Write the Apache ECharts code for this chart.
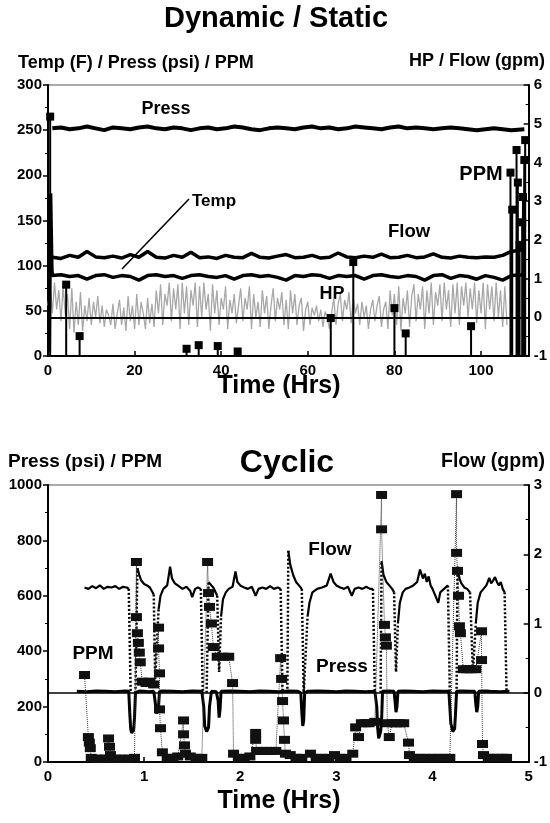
<!DOCTYPE html>
<html><head><meta charset="utf-8">
<script src="https://cdn.jsdelivr.net/npm/echarts@6/dist/echarts.min.js"></script>
<style>html,body{margin:0;padding:0;background:#fff}#c{width:550px;height:823px}</style>
</head><body><div id="c"></div>
<script>
// ---------- TOP CHART (Dynamic / Static) ----------
const topTime = [1,3,5,7,9,11,13,15,17,19,21,23,25,27,29,31,33,35,37,39,41,43,45,47,49,51,53,55,57,59,61,63,65,67,69,71,73,75,77,79,81,83,85,87,89,91,93,95,97,99,101,103,105,107,110];
const topPress = [252,253,251,252,254,252,250,253,252,251,253,254,252,251,253,252,250,252,253,251,252,254,253,251,250,252,253,252,251,253,254,252,253,251,252,254,253,252,251,253,254,252,253,252,251,252,253,252,251,250,251,252,251,250,251];
const topFlow = [1.55,1.52,1.6,1.55,1.7,1.56,1.54,1.58,1.53,1.62,1.55,1.7,1.55,1.53,1.6,1.55,1.68,1.54,1.56,1.52,1.6,1.55,1.54,1.65,1.55,1.53,1.58,1.62,1.54,1.55,1.6,1.53,1.55,1.66,1.56,1.54,1.58,1.55,1.63,1.54,1.55,1.6,1.54,1.56,1.64,1.55,1.53,1.58,1.55,1.54,1.56,1.55,1.6,1.7,1.75];
const topTemp = [89,90,88,89,85,89,90,87,89,88,84,89,90,88,89,86,89,90,88,87,89,85,89,90,88,89,87,84,89,88,90,89,86,89,88,89,85,89,90,88,87,89,88,84,89,90,86,89,88,85,89,87,84,89,90];
const tempStartT = [0.3,0.6,0.9];
const tempStartV = [5,180,95];
const hpTime = [0,0.5,1,1.5,2,2.5,3,3.5,4,4.5,5,5.5,6,6.5,7,7.5,8,8.5,9,9.5,10,10.5,11,11.5,12,12.5,13,13.5,14,14.5,15,15.5,16,16.5,17,17.5,18,18.5,19,19.5,20,20.5,21,21.5,22,22.5,23,23.5,24,24.5,25,25.5,26,26.5,27,27.5,28,28.5,29,29.5,30,30.5,31,31.5,32,32.5,33,33.5,34,34.5,35,35.5,36,36.5,37,37.5,38,38.5,39,39.5,40,40.5,41,41.5,42,42.5,43,43.5,44,44.5,45,45.5,46,46.5,47,47.5,48,48.5,49,49.5,50,50.5,51,51.5,52,52.5,53,53.5,54,54.5,55,55.5,56,56.5,57,57.5,58,58.5,59,59.5,60,60.5,61,61.5,62,62.5,63,63.5,64,64.5,65,65.5,66,66.5,67,67.5,68,68.5,69,69.5,70,70.5,71,71.5,72,72.5,73,73.5,74,74.5,75,75.5,76,76.5,77,77.5,78,78.5,79,79.5,80,80.5,81,81.5,82,82.5,83,83.5,84,84.5,85,85.5,86,86.5,87,87.5,88,88.5,89,89.5,90,90.5,91,91.5,92,92.5,93,93.5,94,94.5,95,95.5,96,96.5,97,97.5,98,98.5,99,99.5,100,100.5,101,101.5,102,102.5,103,103.5,104,104.5,105,105.5,106];
const hpVal = [
 0.3,0.85,0.1,0.9,0.2,0.7,-0.1,0.8,0.05,0.6,
 -0.3,0.75,-0.4,0.4,-0.2,0.65,-0.35,0.3,-0.1,0.5,
 -0.2,0.4,0.0,0.55,-0.15,0.3,-0.25,0.2,0.05,-0.2,
 0.35,-0.3,0.1,0.45,-0.2,0.25,-0.35,0.55,-0.1,0.3,
 -0.3,0.6,-0.2,0.4,0.1,-0.3,0.5,-0.15,0.35,-0.25,
 0.7,0.1,0.85,-0.2,0.6,0.3,0.9,-0.1,0.75,0.2,
 0.85,-0.3,0.9,0.1,0.8,-0.2,0.7,0.3,0.9,-0.25,
 0.8,0.0,0.9,0.2,0.6,-0.35,0.85,0.1,0.7,-0.2,
 0.5,0.2,0.8,-0.3,0.45,0.1,0.6,-0.15,0.3,0.75,
 -0.1,0.5,0.2,0.8,-0.3,0.6,0.0,0.4,-0.25,0.7,
 0.1,0.55,-0.3,0.3,0.75,-0.1,0.5,0.2,0.65,-0.2,
 0.45,-0.3,0.7,0.1,0.6,-0.2,0.3,0.5,-0.35,0.2,
 0.4,-0.2,0.25,0.05,0.3,-0.1,0.2,-0.25,0.15,0.0,
 -0.3,0.1,0.5,-0.2,0.35,0.6,-0.1,0.45,0.2,0.65,
 -0.15,0.5,0.1,0.35,-0.2,0.4,0.0,0.3,-0.3,0.2,
 0.45,-0.1,0.3,0.55,-0.25,0.2,0.4,-0.3,0.7,0.05,
 0.6,-0.2,0.8,-0.35,0.5,0.1,0.7,-0.25,0.55,0.85,
 -0.1,0.6,0.2,0.8,-0.3,0.7,0.1,0.9,-0.2,0.65,
 0.3,0.85,-0.1,0.9,0.2,0.7,-0.25,0.85,0.1,0.9,
 -0.2,0.8,0.3,0.9,0.0,0.75,0.2,0.9,-0.15,0.7,
 0.1,0.9,-0.3,0.85,0.2,0.8,-0.1,0.9,0.0,0.7,
 -0.25,0.8,-0.2];
const ppmTopT = [0.5,4.2,7.3,32,34.8,39.2,43.8,65.3,70.5,80,82.6,97.7,106.8,107.2,108.2,108.5,108.9,109.5,109.7,110,110.2];
const ppmTopV = [265,79,22,8,12,11,5,42,104,53,25,33,203,162,228,192,123,148,176,217,239];

// ---------- BOTTOM CHART (Cyclic) ----------
const flowT = [0.38,0.42,0.46,0.5,0.54,0.58,0.62,0.66,0.7,0.74,0.78,0.82,0.84,0.88,
 0.93,0.95,0.97,1.0,1.03,1.06,1.08,1.1,1.12,
 1.15,1.17,1.2,1.24,1.27,1.29,1.32,1.36,1.4,1.44,1.48,1.5,1.53,1.56,1.59,1.63,
 1.67,1.7,1.72,1.74,1.76,1.78,
 1.8,1.82,1.85,1.88,1.92,1.95,1.97,2.0,2.04,2.08,2.12,2.16,2.19,2.23,2.27,2.31,2.35,2.39,2.42,2.46,
 2.5,2.52,2.55,2.58,2.61,2.64,2.67,
 2.7,2.72,2.75,2.8,2.85,2.9,2.94,2.97,3.0,3.04,3.08,3.12,3.16,3.19,3.23,3.27,3.31,3.35,3.38,3.43,
 3.47,3.49,3.52,3.55,3.58,3.6,3.62,
 3.64,3.66,3.69,3.72,3.76,3.8,3.84,3.87,3.9,3.92,3.94,3.96,3.98,4.0,4.03,4.06,4.08,4.12,4.16,4.2,
 4.26,4.28,4.3,4.33,4.36,4.39,4.42,
 4.45,4.47,4.5,4.53,4.56,4.59,4.61,4.63,4.65,4.67,4.69,4.71,4.73,4.75];
const flowV = [1.52,1.5,1.54,1.51,1.55,1.5,1.53,1.52,1.54,1.5,1.53,1.52,1.5,null,
 1.8,1.7,1.62,1.57,1.55,1.52,1.5,1.42,null,
 1.2,1.4,1.5,1.55,1.82,1.65,1.58,1.54,1.5,1.53,1.47,1.38,1.5,1.52,1.5,null,
 1.6,1.55,1.52,1.5,1.4,null,
 1.1,1.35,1.45,1.5,1.53,1.75,1.6,1.55,1.52,1.5,1.53,1.4,1.5,1.52,1.5,1.54,1.5,1.52,1.5,null,
 2.05,1.85,1.7,1.6,1.55,1.5,null,
 1.1,1.3,1.45,1.5,1.52,1.55,1.72,1.6,1.55,1.52,1.5,1.53,1.4,1.5,1.52,1.5,1.53,1.5,1.5,null,
 1.9,1.7,1.6,1.55,1.5,1.45,null,
 1.0,1.3,1.45,1.5,1.52,1.55,1.6,1.78,1.65,1.72,1.6,1.68,1.55,1.5,1.4,1.3,1.45,1.5,1.55,null,
 1.82,1.65,1.58,1.52,1.5,1.45,null,
 1.0,1.3,1.45,1.5,1.55,1.66,1.58,1.62,1.67,1.6,1.55,1.6,1.5,1.45];
const dropT = [0.84,0.86,0.88,0.91,0.93,0.95,1.1,1.115,1.15,1.16,1.59,1.61,1.63,1.65,1.67,1.68,1.76,1.78,1.8,1.81,
 2.42,2.44,2.46,2.49,2.5,2.51,2.64,2.66,2.7,2.71,3.38,3.4,3.43,3.46,3.47,3.48,3.6,3.62,3.64,3.65,
 4.16,4.18,4.2,4.25,4.26,4.27,4.39,4.42,4.45,4.46,4.75,4.77];
const dropV = [1.5,0,null,0,1.8,null,1.42,0.2,1.2,null,1.5,0,null,0,1.6,null,1.4,0.3,1.1,null,
 1.5,0,null,0,2.05,null,1.5,0,1.1,null,1.5,0,null,0,1.9,null,1.45,0.3,1.0,null,
 1.55,0,null,0,1.82,null,1.45,0.3,1.0,null,1.45,0];
const pressBT = [0.3,0.4,0.5,0.6,0.7,0.8,0.84,0.85,0.86,0.87,0.89,0.9,0.91,0.95,1.0,1.05,1.1,1.11,1.13,1.15,1.16,1.2,1.3,1.4,1.5,1.6,1.62,1.63,1.65,1.67,1.68,1.7,1.75,1.77,1.78,1.79,1.8,1.9,2.0,2.1,2.2,2.3,2.4,2.5,2.6,2.63,2.64,2.65,2.66,2.67,2.7,2.8,2.9,3.0,3.1,3.2,3.3,3.4,3.42,3.43,3.44,3.46,3.47,3.48,3.55,3.6,3.61,3.62,3.63,3.64,3.7,3.8,3.9,4.0,4.1,4.17,4.18,4.19,4.21,4.23,4.24,4.25,4.3,4.4,4.44,4.45,4.46,4.47,4.48,4.55,4.6,4.7,4.8];
const pressBV = [255,254,256,255,254,256,255,180,120,105,115,160,250,256,255,254,255,230,175,200,255,256,255,254,256,255,200,130,110,125,200,255,254,220,160,190,255,256,255,254,256,255,254,256,255,250,180,130,150,250,255,256,255,254,256,255,254,255,200,120,85,110,150,255,256,255,220,180,200,255,256,255,254,256,255,255,200,140,110,120,180,255,256,255,255,210,180,200,255,256,255,254,255];
const ppmBT = [0.38,0.42,0.43,0.44,0.45,0.5,0.55,0.6,0.63,0.64,0.65,0.7,0.75,0.8,0.85,0.9,0.92,0.92,0.93,0.94,0.95,0.96,0.98,1.02,1.06,1.1,1.15,1.15,1.16,1.16,1.17,1.19,1.24,1.3,1.35,1.41,1.41,1.42,1.43,1.48,1.54,1.6,1.66,1.67,1.68,1.7,1.72,1.76,1.82,1.88,1.92,1.93,1.98,2.04,2.1,2.16,2.16,2.17,2.22,2.27,2.32,2.37,2.42,2.43,2.44,2.45,2.46,2.47,2.52,2.58,2.64,2.73,2.79,2.85,2.92,2.98,3.04,3.1,3.17,3.2,3.23,3.26,3.3,3.34,3.4,3.47,3.47,3.5,3.51,3.52,3.53,3.55,3.58,3.62,3.66,3.7,3.75,3.76,3.81,3.87,3.93,4.0,4.06,4.12,4.18,4.25,4.25,4.26,4.27,4.28,4.29,4.32,4.36,4.4,4.45,4.51,4.51,4.52,4.53,4.58,4.63,4.68,4.73,4.77];
const ppmBV = [314,90,70,50,15,12,12,12,85,55,25,12,12,12,12,15,722,523,465,430,395,360,290,285,290,280,485,410,320,190,122,35,15,15,20,150,100,60,30,20,15,15,722,610,560,500,415,380,380,380,285,30,15,15,20,105,80,40,40,40,40,40,375,300,220,150,80,30,25,15,15,30,15,15,15,25,15,15,30,125,90,140,140,140,145,964,840,495,450,420,140,90,140,140,140,140,70,25,15,15,15,15,15,15,15,967,755,690,600,490,465,335,335,335,335,472,368,65,25,15,15,15,15,15];

// ---------- tick labels ----------
const topXTicks = [0,20,40,60,80,100];
const botXTicks = [0,1,2,3,4,5];

const pair = (t, v) => t.map((x, i) => [x, v[i] === null ? null : v[i]]);
const FONT = "'Liberation Sans', Arial, Helvetica, sans-serif";

const ppmTopData = [[0,0]];
ppmTopT.forEach((t, i) => {
  ppmTopData.push({value:[t,0], symbol:'none'});
  ppmTopData.push({value:[t,ppmTopV[i]], symbol:'rect', symbolSize:8});
  ppmTopData.push({value:[t,0], symbol:'none'});
});

const axisLbl = {color:'#000', fontWeight:'bold', fontSize:15, fontFamily:FONT};
function yAx(grid, min, max, interval, pos) {
  return {type:'value', gridIndex:grid, min, max, interval, position:pos,
    axisLine:{show:true, lineStyle:{color:'#000', width:2}},
    axisTick:{show:true, inside:pos==='right', length:5, lineStyle:{color:'#000', width:1.5}},
    minorTick:{show:true, splitNumber:2, length:3, lineStyle:{color:'#000'}},
    axisLabel:Object.assign({margin:pos==='right'?5:6, formatter:v=>String(v)}, axisLbl),
    splitLine:{show:false}};
}
function xAx(grid, min, max, interval, ticks) {
  return {type:'value', gridIndex:grid, min, max, interval,
    axisLine:{show:true, lineStyle:{color:'#000', width:2}},
    axisTick:{show:true, inside:true, length:5, lineStyle:{color:'#000', width:1.5}},
    axisLabel:Object.assign({margin:7, showMaxLabel:max===5, formatter:v=>ticks.indexOf(v)>=0?String(v):''}, axisLbl),
    splitLine:{show:false}};
}
function txt(text, x, y, size, align) {
  return {type:'text', x, y, style:{text, fontSize:size, fontWeight:'bold', fontFamily:FONT, fill:'#000',
    align:align||'center', verticalAlign:'middle', textAlign:align||'center', textVerticalAlign:'middle'}};
}

const chart = echarts.init(document.getElementById('c'), null, {renderer:'canvas'});
chart.setOption({
  animation:false,
  backgroundColor:'#fff',
  grid:[
    {left:48, right:19, top:85, height:271, show:true, borderColor:'#555', borderWidth:1},
    {left:48, right:21, top:485, height:277, show:true, borderColor:'#555', borderWidth:1}
  ],
  xAxis:[xAx(0,0,111,20,topXTicks), xAx(1,0,5,1,botXTicks)],
  yAxis:[yAx(0,0,300,50,'left'), yAx(0,-1,6,1,'right'), yAx(1,0,1000,200,'left'), yAx(1,-1,3,1,'right')],
  series:[
    {name:'HP', type:'line', xAxisIndex:0, yAxisIndex:1, data:pair(hpTime,hpVal), symbol:'none',
      lineStyle:{color:'#a8a8a8', width:1.3},
      markLine:{silent:true, symbol:'none', label:{show:false}, lineStyle:{color:'#000', width:2, type:'solid'}, data:[{yAxis:0}]}},
    {name:'PPM', type:'line', xAxisIndex:0, yAxisIndex:0, data:ppmTopData, symbol:'none',
      lineStyle:{color:'#000', width:2}, itemStyle:{color:'#000'}},
    {name:'Press', type:'line', xAxisIndex:0, yAxisIndex:0, data:pair(topTime,topPress), symbol:'none',
      lineStyle:{color:'#000', width:4}},
    {name:'Temp', type:'line', xAxisIndex:0, yAxisIndex:0, data:pair(tempStartT,tempStartV).concat(pair(topTime,topTemp)), symbol:'none',
      lineStyle:{color:'#000', width:3.5}},
    {name:'Flow', type:'line', xAxisIndex:0, yAxisIndex:1, data:pair(topTime,topFlow), symbol:'none',
      lineStyle:{color:'#000', width:3.5}},
    // bottom
    {name:'FlowB', type:'line', xAxisIndex:1, yAxisIndex:3, data:pair(flowT,flowV), symbol:'none', connectNulls:false,
      lineStyle:{color:'#000', width:2.2},
      markLine:{silent:true, symbol:'none', label:{show:false}, lineStyle:{color:'#000', width:1.5, type:'solid'}, data:[{yAxis:0}]}},
    {name:'FlowDrop', type:'line', xAxisIndex:1, yAxisIndex:3, data:pair(dropT,dropV), symbol:'none', connectNulls:false,
      lineStyle:{color:'#000', width:2.5, type:[2,2]}},
    {name:'PressB', type:'line', xAxisIndex:1, yAxisIndex:2, data:pair(pressBT,pressBV), symbol:'none',
      lineStyle:{color:'#000', width:3}},
    {name:'PPMB', type:'line', xAxisIndex:1, yAxisIndex:2, data:pair(ppmBT,ppmBV), symbol:'rect', symbolSize:[11,8],
      lineStyle:{color:'#333', width:1, type:'dotted'}, itemStyle:{color:'#111'}}
  ],
  graphic:[
    txt('Dynamic / Static', 276, 19, 29),
    txt('Temp (F) / Press (psi) / PPM', 18, 63, 18, 'left'),
    txt('HP / Flow (gpm)', 545, 61, 18, 'right'),
    txt('Time (Hrs)', 279, 386, 25),
    txt('Press', 166, 109, 18),
    txt('Temp', 214, 201, 17),
    txt('Flow', 409, 232, 18.5),
    txt('HP', 332, 294, 18),
    txt('PPM', 481, 174, 20),
    {type:'line', shape:{x1:189, y1:199, x2:122, y2:269}, style:{stroke:'#000', lineWidth:1.6}},
    txt('Press (psi) / PPM', 8, 462, 19, 'left'),
    txt('Cyclic', 287, 463, 32),
    txt('Flow (gpm)', 545, 462, 19.5, 'right'),
    txt('Time (Hrs)', 279, 801, 25),
    txt('Flow', 330, 550, 19),
    txt('Press', 342, 667, 19),
    txt('PPM', 93, 654, 19)
  ]
});
</script>
</body></html>
